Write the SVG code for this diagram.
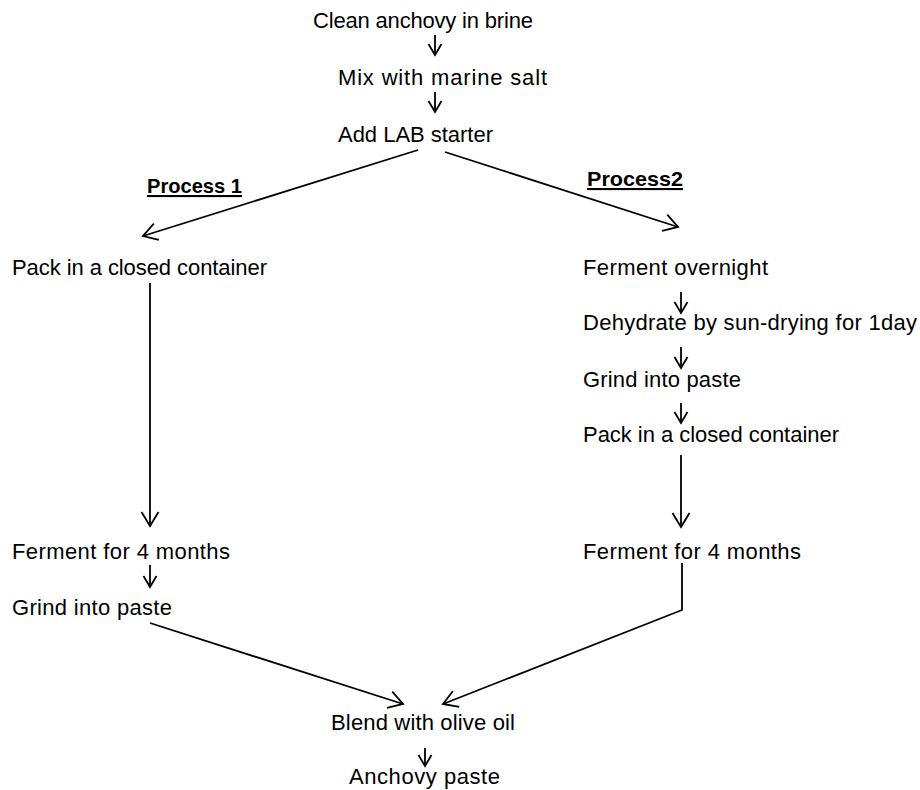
<svg xmlns="http://www.w3.org/2000/svg" width="920" height="790" viewBox="0 0 920 790">
<defs>
<style>
text{font-family:"Liberation Sans",Arial,sans-serif;font-size:22px;fill:#000}
.h{font-weight:bold;font-size:21px;text-decoration:underline}
.c line,.c polyline{stroke:#000;stroke-width:1.8;fill:none}
</style>
<marker id="big" markerUnits="userSpaceOnUse" markerWidth="30" markerHeight="30" viewBox="-15 -15 30 30" refX="0" refY="0" orient="auto">
<polyline points="-14,-8.5 0,0 -14,8.5" fill="none" stroke="#000" stroke-width="1.8"/>
</marker>
<marker id="sm" markerUnits="userSpaceOnUse" markerWidth="30" markerHeight="30" viewBox="-15 -15 30 30" refX="0" refY="0" orient="auto">
<polyline points="-11,-6.5 0,0 -11,6.5" fill="none" stroke="#000" stroke-width="1.8"/>
</marker>
</defs>
<rect width="920" height="790" fill="#fff"/>
<g id="n1"><text x="313" y="28" textLength="220" lengthAdjust="spacing">Clean anchovy in brine</text></g>
<g id="n2"><text x="338" y="85" textLength="209" lengthAdjust="spacing">Mix with marine salt</text></g>
<g id="n3"><text x="338" y="142" textLength="155" lengthAdjust="spacing">Add LAB starter</text></g>
<g id="l1"><text class="h" x="147" y="193" textLength="95" lengthAdjust="spacingAndGlyphs">Process 1</text></g>
<g id="l2"><text class="h" x="587" y="186" textLength="96" lengthAdjust="spacingAndGlyphs">Process2</text></g>
<g id="p1a"><text x="12" y="275" textLength="255" lengthAdjust="spacing">Pack in a closed container</text></g>
<g id="p2a"><text x="583" y="275" textLength="185" lengthAdjust="spacing">Ferment overnight</text></g>
<g id="p2b"><text x="583" y="330" textLength="334" lengthAdjust="spacing">Dehydrate by sun-drying for 1day</text></g>
<g id="p2c"><text x="583" y="387" textLength="158" lengthAdjust="spacing">Grind into paste</text></g>
<g id="p2d"><text x="583" y="442" textLength="256" lengthAdjust="spacing">Pack in a closed container</text></g>
<g id="p1b"><text x="12" y="559" textLength="218" lengthAdjust="spacing">Ferment for 4 months</text></g>
<g id="p2e"><text x="583" y="559" textLength="218" lengthAdjust="spacing">Ferment for 4 months</text></g>
<g id="p1c"><text x="12" y="615" textLength="160" lengthAdjust="spacing">Grind into paste</text></g>
<g id="n4"><text x="331" y="730" textLength="184" lengthAdjust="spacing">Blend with olive oil</text></g>
<g id="n5"><text x="349" y="784" textLength="151" lengthAdjust="spacing">Anchovy paste</text></g>
<g id="connectors" class="c">
<line x1="435" y1="35" x2="435" y2="55" marker-end="url(#sm)"/>
<line x1="435" y1="92" x2="435" y2="112" marker-end="url(#sm)"/>
<line x1="418" y1="150" x2="143" y2="236" marker-end="url(#big)"/>
<line x1="445" y1="152" x2="678" y2="227" marker-end="url(#big)"/>
<line x1="150" y1="283" x2="150" y2="526" marker-end="url(#big)"/>
<line x1="681" y1="292" x2="681" y2="313" marker-end="url(#sm)"/>
<line x1="681" y1="347" x2="681" y2="368" marker-end="url(#sm)"/>
<line x1="681" y1="403" x2="681" y2="423" marker-end="url(#sm)"/>
<line x1="681" y1="455" x2="681" y2="527" marker-end="url(#big)"/>
<line x1="150" y1="565" x2="150" y2="587" marker-end="url(#sm)"/>
<line x1="150" y1="623" x2="403" y2="704" marker-end="url(#big)"/>
<polyline points="682,563 682,610 443,704" marker-end="url(#big)"/>
<line x1="425" y1="748" x2="425" y2="766" marker-end="url(#sm)"/>
</g>
</svg>
